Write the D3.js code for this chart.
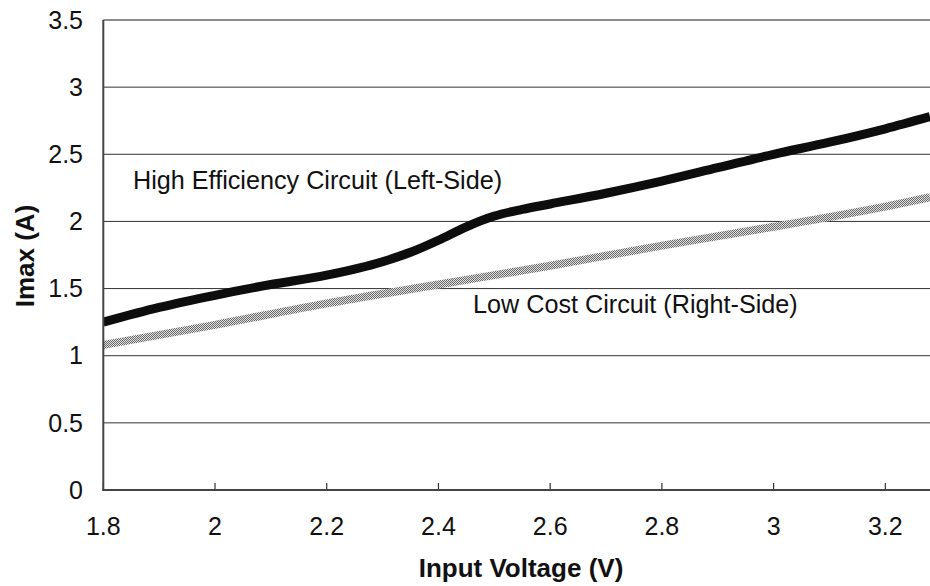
<!DOCTYPE html>
<html>
<head>
<meta charset="utf-8">
<script src="https://cdn.jsdelivr.net/npm/d3@7"></script>
<style>
  html, body { margin: 0; padding: 0; background: #fff; }
  svg { display: block; font-family: "Liberation Sans", Arial, sans-serif; }
</style>
</head>
<body>
<svg id="chart" width="930" height="586"></svg>
<script>
// ---- data ----
const highVoltage = [1.8, 1.9, 2.0, 2.1, 2.2, 2.3, 2.35, 2.4, 2.45, 2.5, 2.55, 2.6, 2.7, 2.8, 2.9, 3.0, 3.1, 3.2, 3.28];
const highImax    = [1.25, 1.36, 1.45, 1.53, 1.60, 1.70, 1.77, 1.86, 1.96, 2.04, 2.09, 2.13, 2.21, 2.30, 2.40, 2.50, 2.59, 2.69, 2.78];
const lowVoltage  = [1.8, 2.0, 2.2, 2.4, 2.6, 2.8, 3.0, 3.2, 3.28];
const lowImax     = [1.08, 1.23, 1.39, 1.53, 1.67, 1.82, 1.96, 2.11, 2.18];
const xTicks = [1.8, 2.0, 2.2, 2.4, 2.6, 2.8, 3.0, 3.2];
const yTicks = [0, 0.5, 1, 1.5, 2, 2.5, 3, 3.5];
const highLabel = "High Efficiency Circuit (Left-Side)";
const lowLabel = "Low Cost Circuit (Right-Side)";
const xTitle = "Input Voltage (V)";
const yTitle = "Imax (A)";

// ---- layout ----
const svg = d3.select("#chart");
const mLeft = 103.3, mRight = 930, mTop = 20, mBottom = 490;
const x = d3.scaleLinear().domain([1.8, 3.28]).range([mLeft, mRight]);
const y = d3.scaleLinear().domain([0, 3.5]).range([mBottom, mTop]);

// pattern for stippled line
const defs = svg.append("defs");
const pat = defs.append("pattern").attr("id", "stipple")
  .attr("patternUnits", "userSpaceOnUse").attr("width", 2).attr("height", 2);
pat.append("rect").attr("width", 2).attr("height", 2).attr("fill", "#e0e0e0");
pat.append("rect").attr("x", 0).attr("y", 0).attr("width", 1).attr("height", 1).attr("fill", "#6a6a6a");
pat.append("rect").attr("x", 1).attr("y", 1).attr("width", 1).attr("height", 1).attr("fill", "#6a6a6a");
defs.append("clipPath").attr("id", "plotclip").append("rect")
  .attr("x", mLeft).attr("y", mTop - 10).attr("width", mRight - mLeft).attr("height", mBottom - mTop + 10);

// gridlines
svg.append("g").selectAll("line").data(yTicks.filter(d => d > 0)).join("line")
  .attr("x1", mLeft).attr("x2", mRight)
  .attr("y1", d => y(d)).attr("y2", d => y(d))
  .attr("stroke", d => d === 3.5 ? "#666" : "#333").attr("stroke-width", d => d === 3.5 ? 1.5 : 1);

// y tick labels
svg.append("g").selectAll("text").data(yTicks).join("text")
  .attr("x", 83).attr("y", d => y(d)).attr("dy", "0.35em")
  .attr("text-anchor", "end").attr("font-size", 25).attr("fill", "#111")
  .text(d => d);

// x ticks
svg.append("g").selectAll("line").data(xTicks).join("line")
  .attr("x1", d => x(d)).attr("x2", d => x(d))
  .attr("y1", mBottom).attr("y2", mBottom - 7)
  .attr("stroke", "#333").attr("stroke-width", 1.2);
svg.append("g").selectAll("text").data(xTicks).join("text")
  .attr("x", d => x(d)).attr("y", 535)
  .attr("text-anchor", "middle").attr("font-size", 25).attr("fill", "#111")
  .text(d => d);

// lines
const g = svg.append("g").attr("clip-path", "url(#plotclip)");
const lowLine = d3.line().x((d, i) => x(lowVoltage[i])).y(d => y(d)).curve(d3.curveMonotoneX);
g.append("path").attr("d", lowLine(lowImax))
  .attr("fill", "none").attr("stroke", "url(#stipple)").attr("stroke-width", 8);
const highLine = d3.line().x((d, i) => x(highVoltage[i])).y(d => y(d)).curve(d3.curveMonotoneX);
g.append("path").attr("d", highLine(highImax))
  .attr("fill", "none").attr("stroke", "#0d0d0d").attr("stroke-width", 9);

// axes lines
svg.append("line").attr("x1", mLeft).attr("x2", mLeft).attr("y1", mTop).attr("y2", mBottom + 1)
  .attr("stroke", "#444").attr("stroke-width", 2);
svg.append("line").attr("x1", mLeft - 1).attr("x2", mRight).attr("y1", mBottom).attr("y2", mBottom)
  .attr("stroke", "#444").attr("stroke-width", 2);

// annotations
svg.append("text").attr("x", 133).attr("y", 189).attr("font-size", 25.2).attr("fill", "#111").text(highLabel);
svg.append("text").attr("x", 473).attr("y", 313).attr("font-size", 25.2).attr("fill", "#111").text(lowLabel);

// axis titles
svg.append("text").attr("x", 521).attr("y", 577)
  .attr("text-anchor", "middle").attr("font-size", 26).attr("font-weight", "bold").attr("fill", "#111")
  .text(xTitle);
svg.append("text").attr("transform", `translate(34, ${(mTop + mBottom) / 2 + 1}) rotate(-90)`)
  .attr("text-anchor", "middle").attr("font-size", 26).attr("font-weight", "bold").attr("fill", "#111")
  .text(yTitle);
</script>
</body>
</html>
